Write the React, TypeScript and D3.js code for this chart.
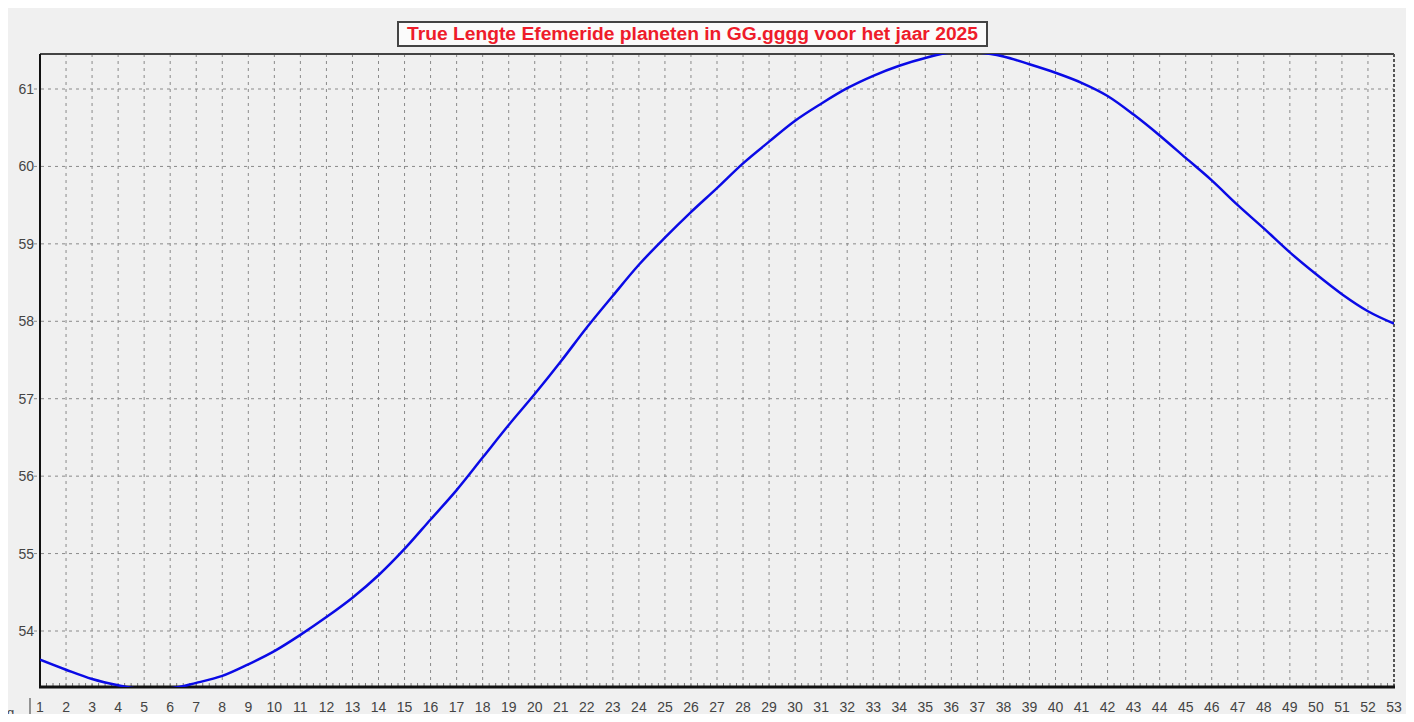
import React from "react";
import * as d3 from "d3";

const weeks: number[] = d3.range(1, 54);
const values: number[] = [
  53.63, 53.5, 53.38, 53.3, 53.25, 53.26, 53.33, 53.42, 53.57, 53.74,
  53.95, 54.18, 54.43, 54.72, 55.06, 55.44, 55.82, 56.24, 56.66, 57.06,
  57.48, 57.92, 58.33, 58.73, 59.08, 59.41, 59.72, 60.04, 60.32, 60.59,
  60.81, 61.01, 61.17, 61.3, 61.4, 61.47, 61.47, 61.42, 61.32, 61.21,
  61.08, 60.91, 60.67, 60.4, 60.11, 59.82, 59.5, 59.2, 58.89, 58.61,
  58.35, 58.13, 57.97,
];
const yTicks: number[] = [54, 55, 56, 57, 58, 59, 60, 61];
const title = "True Lengte Efemeride planeten in GG.gggg voor het jaar 2025";

const W = 1414;
const H = 722;
const left = 40;
const right = 1394;
const top = 54;
const bottom = 687;

export default function App() {
  const x = d3.scaleLinear().domain([1, 53]).range([left, right]);
  const y = d3.scaleLinear().domain([54, 61]).range([631, 89]);
  const line = d3
    .line<number>()
    .x((_, i) => x(weeks[i]))
    .y((d) => y(d))
    .curve(d3.curveMonotoneX);
  const minorTicks = d3.range(1, 53.01, 0.25);
  return (
    <div style={{ margin: -8, width: W, height: H, overflow: "hidden" }}>
      <svg width={W} height={H} style={{ display: "block", fontFamily: "Liberation Sans, Arial, sans-serif" }}>
        <rect x={0} y={0} width={W} height={H} fill="#f0f0f0" />
        <rect x={0} y={0} width={W} height={6} fill="#fafafa" />
        <defs>
          <clipPath id="plotclip">
            <rect x={left} y={top} width={right - left} height={bottom - top} />
          </clipPath>
        </defs>
        {/* grid */}
        {weeks.slice(1, -1).map((w) => (
          <line
            key={"v" + w}
            x1={x(w)}
            x2={x(w)}
            y1={top}
            y2={bottom}
            stroke="#8a8a8a"
            strokeWidth={1}
            strokeDasharray="3,4"
          />
        ))}
        {yTicks.map((t) => (
          <line
            key={"h" + t}
            x1={left - 6}
            x2={right}
            y1={y(t)}
            y2={y(t)}
            stroke="#8a8a8a"
            strokeWidth={1}
            strokeDasharray="3,4"
          />
        ))}
        {/* minor ticks on bottom */}
        {minorTicks.map((m, i) => (
          <line key={"m" + i} x1={x(m)} x2={x(m)} y1={bottom - 4} y2={bottom} stroke="#777" strokeWidth={1} />
        ))}
        {/* border */}
        <line x1={left} x2={right} y1={top} y2={top} stroke="#444" strokeWidth={2} />
        <line x1={right} x2={right} y1={top} y2={bottom} stroke="#555" strokeWidth={2} strokeDasharray="3,2" />
        <line x1={left} x2={left} y1={top} y2={bottom + 1} stroke="#111" strokeWidth={2} />
        <line x1={left - 1} x2={right + 1} y1={bottom} y2={bottom} stroke="#111" strokeWidth={3} />
        {/* curve */}
        <path
          d={line(values) || ""}
          fill="none"
          stroke="#0a0ae6"
          strokeWidth={2.5}
          clipPath="url(#plotclip)"
        />
        {/* y labels */}
        {yTicks.map((t) => (
          <text key={"yl" + t} x={left - 6} y={y(t) + 5} fontSize={14} textAnchor="end" fill="#444">
            {t}
          </text>
        ))}
        {/* x labels */}
        {weeks.map((w) => (
          <text key={"xl" + w} x={x(w)} y={712} fontSize={14} textAnchor="middle" fill="#444">
            {w}
          </text>
        ))}
        <text x={4} y={717} fontSize={13} fill="#444">ig</text>
        <line x1={30} x2={30} y1={698} y2={718} stroke="#555" strokeWidth={1.2} />
        {/* title */}
        <rect x={398} y={22} width={589} height={24} fill="#fbfbfb" stroke="#444" strokeWidth={2} />
        <text
          x={407}
          y={40}
          fontSize={18}
          fontWeight="bold"
          textLength={571}
          lengthAdjust="spacingAndGlyphs"
          fill="#ee1c2a"
        >
          {title}
        </text>
      </svg>
    </div>
  );
}
